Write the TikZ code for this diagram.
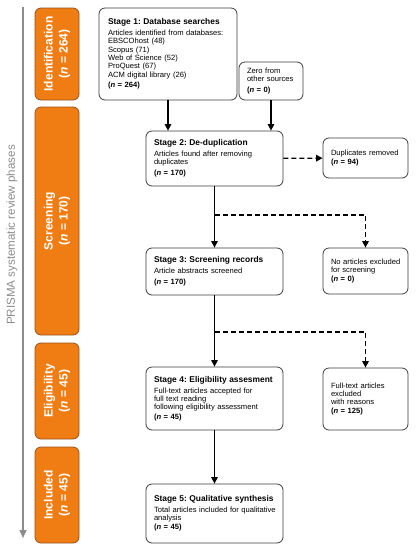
\documentclass[tikz,border=0pt]{standalone}
\usepackage{fontspec}
\setmainfont{Liberation Sans}
\usetikzlibrary{arrows.meta}
\definecolor{phaseorange}{RGB}{240,125,20}
\definecolor{phaseborder}{RGB}{150,80,30}
\definecolor{boxline}{RGB}{60,60,60}
\definecolor{axisgrey}{RGB}{140,140,140}
\newcommand\ttl{\fontsize{8.4}{8.3}\selectfont\bfseries}
\newcommand\nn[1]{\textbf{(\textit{n} = #1)}}
\frenchspacing
\hyphenpenalty=10000
\exhyphenpenalty=10000
\begin{document}
\begin{tikzpicture}[x=1pt,y=-1pt,
  box/.style={draw=boxline, line width=0.8pt, rounded corners=6pt, fill=white,
    align=left, inner xsep=0pt, inner ysep=0pt, font=\fontsize{7.6}{8.3}\selectfont},
  stagebox/.style={box, minimum width=137pt, text width=121pt},
  sidebox/.style={box, minimum width=85pt, text width=69pt},
  phase/.style={draw=phaseborder, fill=phaseorange, line width=0.8pt, rounded corners=6pt,
    minimum height=44pt, inner sep=0pt, text=white, align=center, rotate=90,
    font=\fontsize{12}{15}\selectfont\bfseries},
  arr/.style={-{Triangle[length=6.5pt,width=6.5pt]}, line width=1.3pt, black},
  darr/.style={arr, dash pattern=on 5pt off 3pt},
  axis/.style={-{Triangle[length=8pt,width=7pt]}, line width=1.3pt, draw=axisgrey}]
\useasboundingbox (0,0) rectangle (418,550);

% phase axis
\coordinate (axtop) at (23,7);
\coordinate (axbot) at (23,538);
\draw[axis] (axtop) -- (axbot);
\node[rotate=90, text=axisgrey, font=\fontsize{11.6}{14}\selectfont] (axlabel) at (12,235) {PRISMA systematic review phases};

% phase boxes
\node[phase, minimum width=92pt] (p1) at (57,54) {Identification\\(\textit{n} = 264)};
\node[phase, minimum width=228pt] (p2) at (57,221) {Screening\\(\textit{n} = 170)};
\node[phase, minimum width=96pt] (p3) at (57,391) {Eligibility\\(\textit{n} = 45)};
\node[phase, minimum width=96pt] (p4) at (57,495) {Included\\(\textit{n} = 45)};

% stage boxes
\node[box, minimum width=138pt, text width=120pt, minimum height=92pt] (s1) at (168,54)
  {{\ttl Stage 1: Database searches}\\[2.5pt]
   Articles identified from databases:\\
   EBSCOhost (48)\\
   Scopus (71)\\
   Web of Science (52)\\
   ProQuest (67)\\
   ACM digital library (26)\\[2.5pt]
   \nn{264}};
\node[box, minimum width=64pt, text width=48pt, minimum height=38pt] (zero) at (271,81)
  {Zero from\\ \mbox{other sources}\\[2.5pt] \nn{0}};
\node[stagebox, minimum height=55pt] (s2) at (214.5,158.5)
  {{\ttl Stage 2: De-duplication}\\[2.5pt]
   Articles found after removing\\ duplicates\\[2.5pt] \nn{170}};
\node[sidebox, minimum height=40pt] (dup) at (365.5,158)
  {\mbox{Duplicates removed}\\ \nn{94}};
\node[stagebox, minimum height=47pt] (s3) at (214.5,271.5)
  {{\ttl Stage 3: Screening records}\\[2.5pt]
   Article abstracts screened\\[2.5pt] \nn{170}};
\node[sidebox, minimum height=46pt] (noart) at (365.5,271)
  {\mbox{No articles excluded}\\ for screening\\[1pt] \nn{0}};
\node[stagebox, minimum height=63pt] (s4) at (214.5,398.5)
  {{\ttl \mbox{Stage 4: Eligibility assesment}}\\[2.5pt]
   Full-text articles accepted for\\ full text reading\\ \mbox{following eligibility assessment}\\[1pt] \nn{45}};
\node[sidebox, minimum height=62pt] (full) at (365.5,399)
  {Full-text articles\\ excluded\\ with reasons\\[1pt] \nn{125}\\[6pt]};
\node[stagebox, minimum height=59pt] (s5) at (214.5,513.5)
  {{\ttl \mbox{Stage 5: Qualitative synthesis}}\\[2.5pt]
   \mbox{Total articles included for qualitative}\\ analysis\\[1pt] \nn{45}};

% connectors
\coordinate (b1) at (214.5,215);
\coordinate (b2) at (214.5,332);
\draw[arr] (s1) -- (s1 |- s2.north);
\draw[arr] (zero) -- (zero |- s2.north);
\draw[darr] (s2) -- (dup);
\draw[arr] (s2) -- (s3);
\draw[darr] (b1) -| (noart);
\draw[arr] (s3) -- (s4);
\draw[darr] (b2) -| (full);
\draw[arr] (s4) -- (s5);
\end{tikzpicture}
\end{document}
